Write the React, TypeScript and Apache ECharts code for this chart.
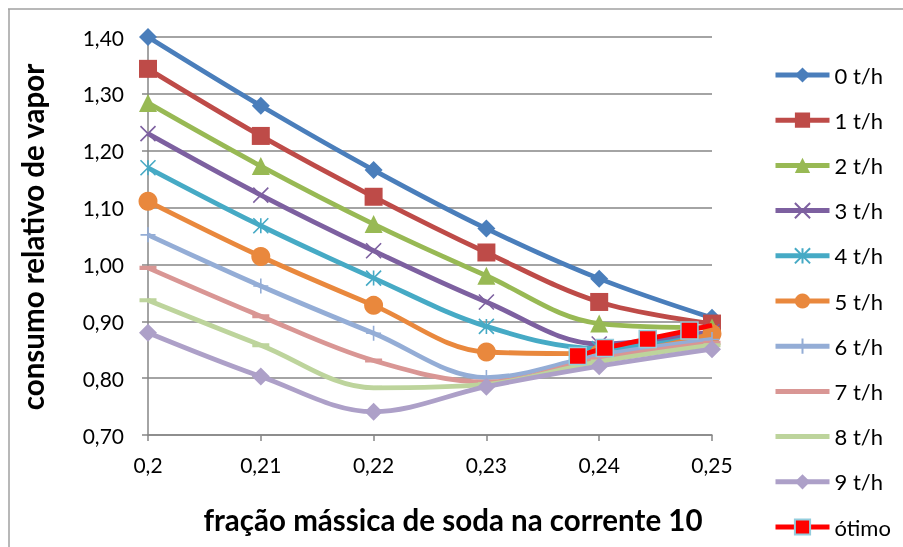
import React, { useEffect, useRef } from "react";
import * as echarts from "echarts";

const xValues = [0.2, 0.21, 0.22, 0.23, 0.24, 0.25];
const seriesNames = ["0 t/h", "1 t/h", "2 t/h", "3 t/h", "4 t/h", "5 t/h", "6 t/h", "7 t/h", "8 t/h", "9 t/h"];
const s0 = [1.4, 1.279, 1.166, 1.063, 0.975, 0.906];
const s1 = [1.344, 1.226, 1.119, 1.021, 0.934, 0.896];
const s2 = [1.284, 1.173, 1.071, 0.98, 0.896, 0.889];
const s3 = [1.23, 1.122, 1.024, 0.934, 0.86, 0.882];
const s4 = [1.17, 1.068, 0.976, 0.891, 0.852, 0.876];
const s5 = [1.111, 1.014, 0.928, 0.846, 0.843, 0.878];
const s6 = [1.052, 0.962, 0.879, 0.801, 0.84, 0.868];
const s7 = [0.994, 0.909, 0.831, 0.793, 0.834, 0.862];
const s8 = [0.937, 0.858, 0.783, 0.789, 0.829, 0.858];
const s9 = [0.88, 0.803, 0.741, 0.785, 0.821, 0.851];
const otimoX = [0.2381, 0.2405, 0.2443, 0.248, 0.25];
const otimoY = [0.839, 0.853, 0.869, 0.884, 0.893];
const allSeries = [s0, s1, s2, s3, s4, s5, s6, s7, s8, s9];

const colors = ["#4A7EBB", "#BE4B48", "#98B954", "#7D60A0", "#46AAC5", "#E9883D", "#94ADD6", "#D99694", "#BDD49C", "#ADA0C8"];

const X_PATH = "path://M0,0L10,10M10,0L0,10";
const STAR_PATH = "path://M0,0L10,10M10,0L0,10M5,0L5,10";
const PLUS_PATH = "path://M5,0L5,10M0,5L10,5";
const DASH_PATH = "path://M0,0L0.01,0L0,0.01ZM0,3.8L10,3.8L10,6.2L0,6.2ZM10,10L9.99,10L10,9.99Z";

const symbols: any[] = [
  { s: "diamond", size: 18, stroke: false },
  { s: "rect", size: 18, stroke: false },
  { s: "triangle", size: 18, stroke: false },
  { s: X_PATH, size: 15, stroke: true },
  { s: STAR_PATH, size: 15, stroke: true },
  { s: "circle", size: 19, stroke: false },
  { s: PLUS_PATH, size: 15, stroke: true },
  { s: DASH_PATH, size: 17, stroke: false },
  { s: DASH_PATH, size: 17, stroke: false },
  { s: "diamond", size: 18, stroke: false },
];

const FONT = "Lato";

export default function App() {
  const ref = useRef<HTMLDivElement>(null);
  useEffect(() => {
    if (!ref.current) return;
    const chart = echarts.init(ref.current, undefined, { renderer: "svg" });
    const series: any[] = allSeries.map((vals, i) => ({
      name: seriesNames[i],
      type: "line",
      smooth: 0.35,
      data: vals.map((v, j) => [xValues[j], v]),
      symbol: symbols[i].s,
      symbolSize: symbols[i].size,
      lineStyle: { color: colors[i], width: 4.8 },
      itemStyle: symbols[i].stroke
        ? { color: colors[i], borderColor: colors[i], borderWidth: 1.6 }
        : { color: colors[i], borderWidth: 0 },
      z: 2 + i,
    }));
    series.push({
      name: "ótimo",
      type: "line",
      smooth: 0.2,
      data: otimoX.map((x, j) =>
        j === otimoX.length - 1
          ? { value: [x, otimoY[j]], symbol: "none" }
          : { value: [x, otimoY[j]] }
      ),
      symbol: "rect",
      symbolSize: 17,
      lineStyle: { color: "#FF0000", width: 4.8 },
      itemStyle: { color: "#FF0000", borderColor: "#93CDDD", borderWidth: 1.5 },
      z: 20,
    });

    chart.setOption({
      animation: false,
      textStyle: { fontFamily: FONT },
      grid: { left: 148, right: 191, top: 37, bottom: 112 },
      xAxis: {
        type: "value",
        min: 0.2,
        max: 0.25,
        interval: 0.01,
        splitLine: { show: false },
        axisLine: { show: true, lineStyle: { color: "#868686", width: 1.5 } },
        axisTick: { show: true, length: 6, lineStyle: { color: "#868686", width: 1.5 } },
        axisLabel: {
          margin: 19,
          fontSize: 21,
          color: "#000",
          fontFamily: FONT,
          formatter: (v: number) => String(+v.toFixed(2)).replace(".", ","),
        },
      },
      yAxis: {
        type: "value",
        min: 0.7,
        max: 1.4,
        interval: 0.1,
        splitLine: { show: true, lineStyle: { color: "#868686", width: 1.5 } },
        axisLine: { show: true, lineStyle: { color: "#868686", width: 1.5 } },
        axisTick: { show: true, length: 6, lineStyle: { color: "#868686", width: 1.5 } },
        axisLabel: {
          margin: 24,
          fontSize: 21,
          color: "#000",
          fontFamily: FONT,
          formatter: (v: number) => v.toFixed(2).replace(".", ","),
        },
      },
      legend: {
        orient: "vertical",
        left: 768,
        top: 59,
        itemWidth: 54,
        itemHeight: 19,
        itemGap: 23.2,
        lineStyle: { width: 5 },
        textStyle: { fontSize: 22, color: "#000", fontFamily: FONT },
        data: [...seriesNames, "ótimo"],
      },
      graphic: [
        { type: "line", shape: { x1: 8, y1: 9, x2: 903, y2: 9 }, style: { stroke: "#A0A0A0", lineWidth: 1.5 } },
        { type: "line", shape: { x1: 9, y1: 9, x2: 9, y2: 547 }, style: { stroke: "#A0A0A0", lineWidth: 1.5 } },
        {
          type: "text",
          x: 32,
          y: 237,
          rotation: Math.PI / 2,
          style: {
            text: "consumo relativo de vapor",
            fontSize: 29.5,
            fontWeight: "bold",
            fontFamily: FONT,
            fill: "#000",
            align: "center",
            verticalAlign: "middle",
          },
        },
        {
          type: "text",
          x: 453,
          y: 519,
          style: {
            text: "fração mássica de soda na corrente 10",
            fontSize: 29.5,
            fontWeight: "bold",
            fontFamily: FONT,
            fill: "#000",
            align: "center",
            verticalAlign: "middle",
          },
        },
      ],
      series,
    });
    return () => chart.dispose();
  }, []);
  return <div ref={ref} style={{ position: "fixed", left: 0, top: 0, width: 903, height: 547 }} />;
}
